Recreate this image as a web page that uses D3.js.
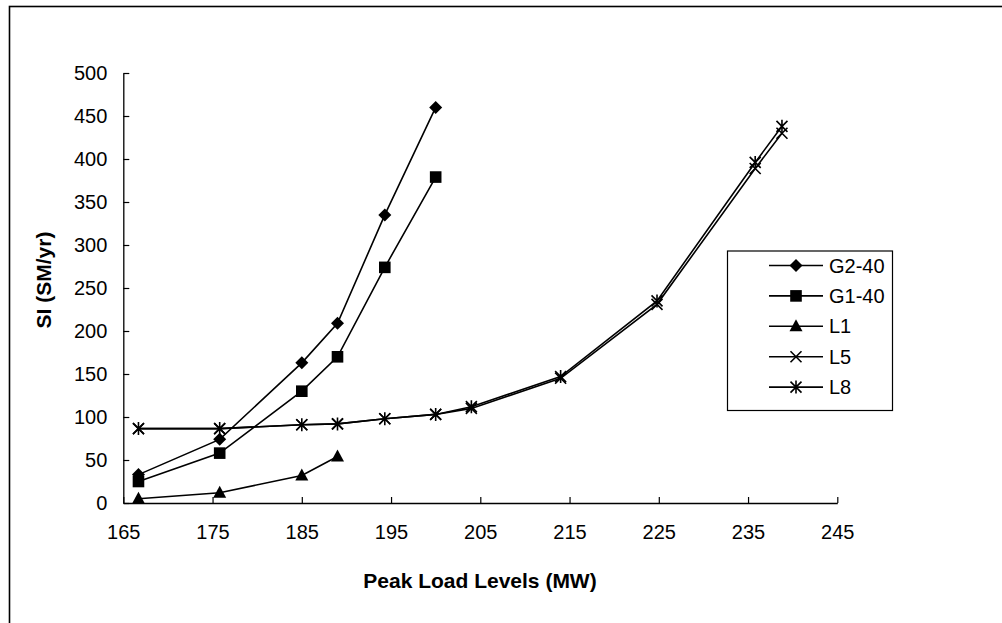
<!DOCTYPE html>
<html><head><meta charset="utf-8">
<script src="https://cdn.jsdelivr.net/npm/d3@7"></script>
<style>
html,body{margin:0;padding:0;background:#fff;}
svg{display:block;font-family:"Liberation Sans",Arial,sans-serif;}
</style></head>
<body>
<svg id="chart" width="1002" height="623"></svg>
<script>
// ---- data ----
const xTicks = [165,175,185,195,205,215,225,235,245];
const yTicks = [0,50,100,150,200,250,300,350,400,450,500];

const loadG = [166.7,175.8,185,189,194.3,200];
const g2_40 = [33,74,163,209,335,460];
const g1_40 = [25,58,130,170,274,379];

const loadL1 = [166.7,175.8,185,189];
const l1 = [5,12,32,54];

const loadL = [166.7,175.8,185,189,194.3,200,204,214,224.8,235.8,238.8];
const l5 = [86.5,86.5,91,92,98,103,110,145,231,389,430];
const l8 = [86.5,86.5,91,92,98,103,112,147,235,396,438];

const seriesNames = ["G2-40","G1-40","L1","L5","L8"];
const seriesMarkers = ["diamond","square","triangle","x","star"];

const series = [
  {name:seriesNames[0], marker:seriesMarkers[0], xs:loadG, ys:g2_40},
  {name:seriesNames[1], marker:seriesMarkers[1], xs:loadG, ys:g1_40},
  {name:seriesNames[2], marker:seriesMarkers[2], xs:loadL1, ys:l1},
  {name:seriesNames[3], marker:seriesMarkers[3], xs:loadL, ys:l5},
  {name:seriesNames[4], marker:seriesMarkers[4], xs:loadL, ys:l8}
];

const svg = d3.select("#chart");

// outer frame
svg.append("rect").attr("x",9.5).attr("y",6.5).attr("width",1010).attr("height",700)
  .attr("fill","none").attr("stroke","#000").attr("stroke-width",1.6);

const x = d3.scaleLinear().domain([165,245]).range([123.3,837.3]);
const y = d3.scaleLinear().domain([0,500]).range([503,73]);

// axes
const xAxis = svg.append("g").attr("transform",`translate(0,${y(0)})`)
  .call(d3.axisBottom(x).tickValues(xTicks).tickSize(-6).tickPadding(22).tickSizeOuter(0));
const yAxis = svg.append("g").attr("transform",`translate(${x(165)},0)`)
  .call(d3.axisLeft(y).tickValues(yTicks).tickSize(-6).tickPadding(16).tickSizeOuter(0));
[xAxis,yAxis].forEach(a=>{
  a.select(".domain").attr("stroke","#000").attr("stroke-width",1.3);
  a.selectAll(".tick line").attr("stroke","#000").attr("stroke-width",1.2);
  a.selectAll(".tick text").attr("fill","#000").style("font-size","20px")
   .style("font-family","'Liberation Sans',Arial,sans-serif");
});

// axis titles
svg.append("text").attr("x",480).attr("y",588).attr("text-anchor","middle")
  .style("font-size","21px").style("font-weight","bold").text("Peak Load Levels (MW)");
svg.append("text").attr("transform","translate(51,280) rotate(-90)").attr("text-anchor","middle")
  .style("font-size","21px").style("font-weight","bold").text("SI (SM/yr)");

// marker drawing
function drawMarker(g, type, cx, cy){
  if(type==="diamond"){
    g.append("path").attr("d",`M${cx},${cy-6.5}L${cx+6.5},${cy}L${cx},${cy+6.5}L${cx-6.5},${cy}Z`).attr("fill","#000");
  } else if(type==="square"){
    g.append("rect").attr("x",cx-5.8).attr("y",cy-5.8).attr("width",11.6).attr("height",11.6).attr("fill","#000");
  } else if(type==="triangle"){
    g.append("path").attr("d",`M${cx},${cy-7}L${cx+6.5},${cy+5}L${cx-6.5},${cy+5}Z`).attr("fill","#000");
  } else if(type==="x"){
    g.append("path").attr("d",`M${cx-5.5},${cy-5.5}L${cx+5.5},${cy+5.5}M${cx+5.5},${cy-5.5}L${cx-5.5},${cy+5.5}`)
     .attr("stroke","#000").attr("stroke-width",1.6).attr("fill","none");
  } else if(type==="star"){
    g.append("path").attr("d",`M${cx-5.5},${cy-5.5}L${cx+5.5},${cy+5.5}M${cx+5.5},${cy-5.5}L${cx-5.5},${cy+5.5}M${cx},${cy-6.5}L${cx},${cy+6.5}`)
     .attr("stroke","#000").attr("stroke-width",1.6).attr("fill","none");
  }
}

const line = d3.line().x(d=>x(d[0])).y(d=>y(d[1]));
series.forEach(s=>{
  const pts = s.xs.map((v,i)=>[v,s.ys[i]]);
  const g = svg.append("g");
  g.append("path").attr("d",line(pts)).attr("fill","none").attr("stroke","#000").attr("stroke-width",1.6);
  pts.forEach(p=>drawMarker(g,s.marker,x(p[0]),y(p[1])));
});

// legend
const lg = svg.append("g");
lg.append("rect").attr("x",727.5).attr("y",251).attr("width",165).attr("height",159.5)
  .attr("fill","#fff").attr("stroke","#000").attr("stroke-width",1.2);
series.forEach((s,i)=>{
  const yy = 265.5 + i*30.4;
  lg.append("line").attr("x1",769).attr("x2",823).attr("y1",yy).attr("y2",yy).attr("stroke","#000").attr("stroke-width",1.6);
  drawMarker(lg,s.marker,796,yy);
  lg.append("text").attr("x",829).attr("y",yy+7).style("font-size","20px").text(s.name);
});
</script>
</body></html>
